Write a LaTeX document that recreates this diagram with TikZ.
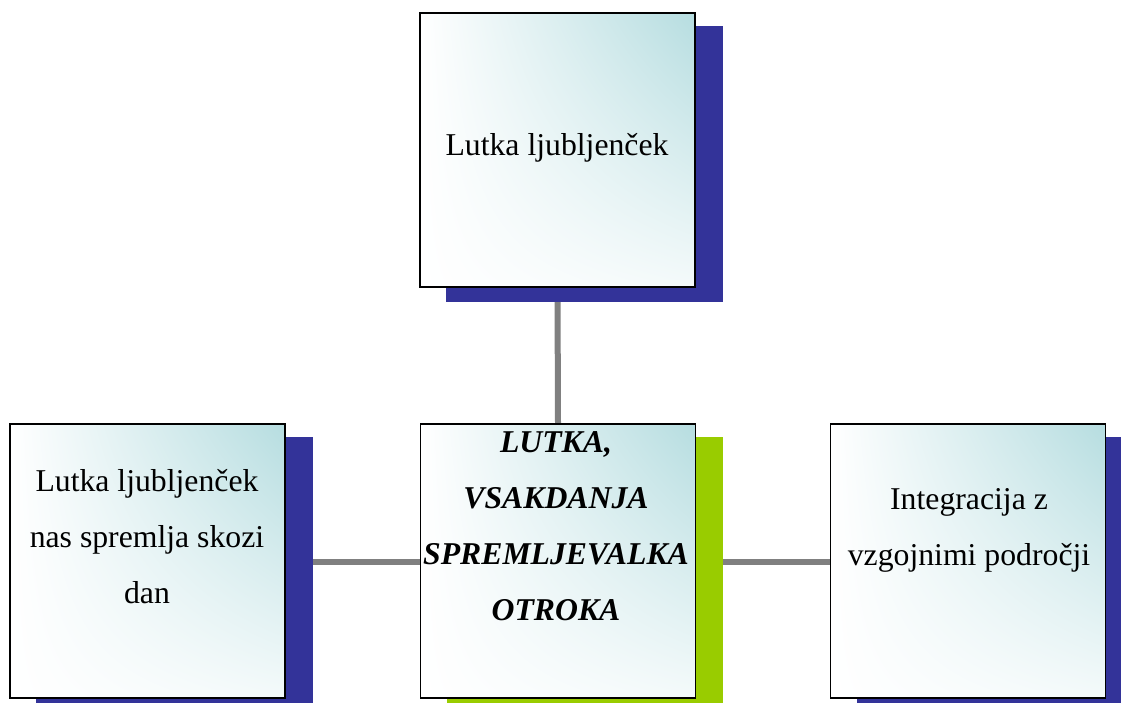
\documentclass[tikz,border=0pt]{standalone}
\usepackage{fontspec}
\setmainfont{Liberation Serif}
\usetikzlibrary{positioning,shadings}
\pgfdeclarelayer{lines}
\pgfdeclarelayer{shadows}
\pgfsetlayers{lines,shadows,main}
\definecolor{shblue}{RGB}{51,51,153}
\definecolor{shgreen}{RGB}{153,204,0}
\definecolor{teal1}{RGB}{182,221,224}
\definecolor{conn}{RGB}{128,128,128}
\tikzset{
  card/.style={draw=black, line width=1.1pt, minimum width=206pt, minimum height=205.5pt,
    inner sep=0pt, upper left=white, upper right=teal1, lower left=white, lower right=white!85!teal1},
  cardtext/.style={anchor=base, inner sep=0pt, align=center, font=\fontsize{23.8}{42}\selectfont},
  link/.style={draw=conn, line width=4.5pt},
}
\begin{document}
\begin{tikzpicture}[x=0.75pt, y=-0.75pt]
\clip (0,0) rectangle (1121,703);
% boxes
\node[card] (top) at (557.5,150) {};
\node[card] (mid) at (558,561) {};
\node[card] (lft) at (147.5,561) {};
\node[card] (rgt) at (968,561) {};
% texts (anchor = baseline of last line)
\node[cardtext] (toptxt) at (557,155) {Lutka ljubljenček};
\node[cardtext, font=\fontsize{23.8}{42}\selectfont\bfseries\itshape] (midtxt) at (556,620) {LUTKA,\\VSAKDANJA\\SPREMLJEVALKA\\OTROKA};
\node[cardtext] (lfttxt) at (147,603) {Lutka ljubljenček\\nas spremlja skozi\\dan};
\node[cardtext] (rgttxt) at (969,565) {Integracija z\\vzgojnimi področji};
% shadows
\begin{pgfonlayer}{shadows}
\fill[shblue] ([shift={(27,14)}]top.south west) rectangle ([shift={(27,14)}]top.north east);
\fill[shgreen] ([shift={(27,14)}]mid.south west) rectangle ([shift={(27,14)}]mid.north east);
\fill[shblue] ([shift={(27,14)}]lft.south west) rectangle ([shift={(27,14)}]lft.north east);
\fill[shblue] ([shift={(27,14)}]rgt.south west) rectangle ([shift={(27,14)}]rgt.north east);
\end{pgfonlayer}
% connectors
\begin{pgfonlayer}{lines}
\fill[white] (0,0) rectangle (1121,703);
\draw[link] (top.south) -- (mid.north);
\draw[link] (lft.east |- 0,562) -- (mid.west |- 0,562);
\draw[link] (mid.east |- 0,562) -- (rgt.west |- 0,562);
\end{pgfonlayer}
\end{tikzpicture}
\end{document}
